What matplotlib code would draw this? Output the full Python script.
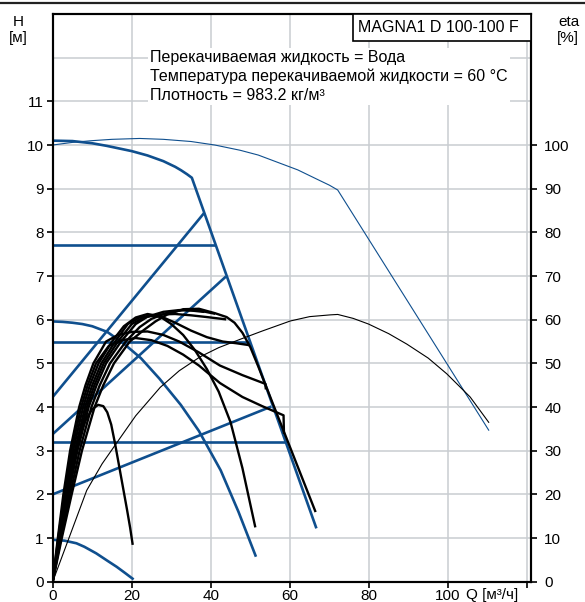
import matplotlib.pyplot as plt
from matplotlib.lines import Line2D
from matplotlib.patches import Rectangle

plt.rcParams['font.family'] = ['Liberation Sans', 'DejaVu Sans']

BLUE = '#0f4f8e'
GRID = '#c9cdd1'

# Q-H curves, Q in m3/h, H in m
max_q = [0, 5, 10, 13.7, 20, 24, 28, 31, 32.5, 34, 35.2, 66.6]
max_h = [10.1, 10.09, 10.04, 9.98, 9.86, 9.76, 9.63, 9.5, 9.42, 9.33, 9.25, 1.25]
min_q = [0, 3, 6, 8, 11, 14, 16.2, 18.3, 20.2]
min_h = [0.96, 0.94, 0.88, 0.8, 0.65, 0.47, 0.34, 0.2, 0.07]
spd_q = [0, 2.5, 5, 7.5, 10, 13.8, 18, 22.3, 27, 32.4, 37, 42.5, 47, 51.3]
spd_h = [5.96, 5.95, 5.93, 5.9, 5.85, 5.72, 5.45, 5.12, 4.65, 4.05, 3.45, 2.55, 1.6, 0.6]
cp_q = [[0, 40.8], [0, 49.6], [0, 58.8]]
cp_h = [[7.7, 7.7], [5.5, 5.5], [3.2, 3.2]]
pp_q = [[0, 38.1], [0, 43.6], [0, 55.0]]
pp_h = [[4.23, 8.42], [3.38, 6.97], [2.0, 4.0]]

# twin pump (parallel) curves, thin
par_q = [0, 5, 10, 15, 22, 28, 35, 41, 47.4, 52, 57, 62, 67.7, 70, 72.1, 110.3]
par_h = [10.0, 10.06, 10.1, 10.13, 10.15, 10.13, 10.08, 10.0, 9.88, 9.77, 9.6, 9.43,
         9.18, 9.08, 8.97, 3.47]
par_eta_q = [0, 8.6, 12.5, 16.2, 21, 27.2, 32, 37.3, 42, 47.4, 53, 60.1, 65, 70.2, 72.1,
             76, 79.9, 85, 89.6, 95, 99.7, 105.6, 110.3]
par_eta = [0, 20.9, 27, 31.8, 38, 44.5, 48.3, 51.5, 53.6, 55.5, 57.4, 59.7, 60.7, 61.1, 61.2,
           60.3, 59, 56.8, 54.4, 51.2, 47.6, 42.3, 36.5]

# efficiency curves, eta in %
eta_curves = [
    # max curve
    ([0, 2.3, 4.8, 7.4, 10.6, 12.8, 15.5, 19.5, 23, 26, 29, 33, 37, 41, 44, 46, 48, 50, 52,
      55.6, 60, 66.4],
     [0, 10, 20, 30, 40, 45, 50, 55, 57.6, 59.6, 61.2, 62.4, 62.5, 61.5, 60.6, 59.3, 57,
      53.7, 49.3, 41, 30.9, 16.2]),
    # constant pressure 7.7 m
    ([0, 2.1, 4.4, 6.8, 9.8, 11.9, 14.5, 18.5, 22, 25, 29, 33, 37, 40.8],
     [0, 10, 20, 30, 40, 45, 50, 55, 58.3, 60.2, 61.6, 62.2, 62.1, 61.4]),
    # proportional pressure high
    ([0, 1.9, 4.0, 6.25, 9.1, 11.1, 13.5, 17.3, 21, 24, 28, 32, 35, 38.1],
     [0, 10, 20, 30, 40, 45, 50, 55, 59, 60.7, 61.8, 62.2, 62.1, 61.8]),
    # proportional pressure mid
    ([0, 1.8, 3.75, 5.9, 8.65, 10.55, 12.9, 16.5, 20, 23, 27, 31, 35, 39, 43.6],
     [0, 10, 20, 30, 40, 45, 50, 55, 59, 60.5, 61.2, 61.3, 61, 60.6, 60.1]),
    # constant pressure 5.5 m
    ([0, 1.7, 3.5, 5.6, 8.2, 10, 12.3, 15.8, 19, 22, 25, 28, 31, 35, 39, 43, 46.5, 49.5],
     [0, 10, 20, 30, 40, 45, 50, 55, 59, 60.5, 61, 60.5, 59.3, 57.5, 56, 55, 54.6, 54.2]),
    # constant speed curve
    ([0, 1.55, 3.2, 5.15, 7.7, 9.4, 11.6, 15, 18, 21, 24, 27, 30, 33, 36, 39, 42, 45, 48, 51.2],
     [0, 10, 20, 30, 40, 45, 50, 55, 58.5, 60.5, 61.3, 60.8, 59, 56.5, 53, 48.7, 43.5, 36.5,
      26, 12.7]),
    # proportional pressure low
    ([0, 1.3, 2.7, 4.4, 6.7, 8.3, 10.3, 13.5, 16.5, 20, 24, 28, 32, 37, 42.3, 48, 53.8, 53.9],
     [0, 10, 20, 30, 40, 45, 50, 55, 56.5, 57.2, 57.3, 56.5, 55, 52.5, 49.5, 47.3, 45.3, 44.3]),
    # constant pressure 3.2 m
    ([0, 1.4, 2.95, 4.75, 7.2, 8.85, 10.95, 14.2, 17.5, 21, 25, 29, 33, 37, 42.3, 48, 53,
      58.4, 58.5],
     [0, 10, 20, 30, 40, 45, 50, 54, 55.3, 55.8, 55.3, 54, 52, 49.5, 45.5, 42.3, 40.2,
      38.1, 34.1]),
    # min curve
    ([0, 1.6, 3.3, 5.3, 7, 8.5, 10, 11.5, 12.8, 13.8, 14.8, 15.8, 16.8, 17.8, 18.8, 19.6, 20.2],
     [0, 10, 20, 29, 34, 37.3, 39.5, 40.5, 40.2, 38.8, 36, 31.5, 26.5, 21.5, 16.5, 12.3, 8.7]),
]

fig = plt.figure(figsize=(5.85, 6.02), dpi=100)
ax = fig.add_axes([52.7 / 585, 20.3 / 602, 478.3 / 585, 567.7 / 602])
ax2 = ax.twinx()

ax.set_xlim(0, 121)
ax.set_ylim(0, 13)
ax2.set_ylim(0, 130)

ax.set_xticks(range(0, 121, 20))
ax.set_xticklabels(['0', '20', '40', '60', '80', '100', ''])
ax.set_yticks(range(0, 13))
ax.set_yticklabels([str(i) for i in range(12)] + [''])
ax.yaxis.get_major_ticks()[12].tick1line.set_visible(False)
ax2.set_yticks(range(0, 101, 10))
ax.grid(True, color=GRID, lw=1.1, zorder=0)
ax.set_axisbelow(True)

ax.tick_params(axis='y', labelsize=11, length=4.5, width=1.2, direction='out', pad=2)
ax.tick_params(axis='x', labelsize=11, length=4.5, width=1.2, direction='out', pad=1)
ax2.tick_params(axis='y', labelsize=11, length=4.5, width=1.2, direction='out', pad=5)
for a in (ax, ax2):
    for s in a.spines.values():
        s.set_linewidth(1.5)
        s.set_color('black')

lw = 1.9
ax.plot(max_q, max_h, color=BLUE, lw=lw)
ax.plot(min_q, min_h, color=BLUE, lw=lw)
ax.plot(spd_q, spd_h, color=BLUE, lw=lw)
for q, h in zip(cp_q, cp_h):
    ax.plot(q, h, color=BLUE, lw=lw)
for q, h in zip(pp_q, pp_h):
    ax.plot(q, h, color=BLUE, lw=lw)
ax.plot(par_q, par_h, color=BLUE, lw=0.8)

for q, e in eta_curves:
    ax2.plot(q, e, color='black', lw=1.7, solid_joinstyle='round')
ax2.plot(par_eta_q, par_eta, color='black', lw=0.8)

ax.text(0.2034, 0.8896,
        'Перекачиваемая жидкость = Вода\n'
        'Температура перекачиваемой жидкости = 60 °C\n'
        'Плотность = 983.2 кг/м³',
        transform=ax.transAxes, fontsize=11.5, va='center', ha='left',
        linespacing=1.3, zorder=10,
        bbox=dict(facecolor='white', edgecolor='none', pad=1.5))

ax2.add_patch(Rectangle((0.6285, 0.953), 0.3715, 0.047, transform=ax.transAxes,
                        facecolor='white', edgecolor='black', lw=1.2, zorder=10))
ax2.text(0.8056, 0.9765, 'MAGNA1 D 100-100 F', transform=ax.transAxes,
         fontsize=11.5, ha='center', va='center', zorder=11)

fig.text(18 / 585, 1 - 22 / 602, 'H', fontsize=11, ha='center', va='center')
fig.text(18 / 585, 1 - 38 / 602, '[м]', fontsize=11, ha='center', va='center')
fig.text(569 / 585, 1 - 22 / 602, 'eta', fontsize=11, ha='center', va='center')
fig.text(568 / 585, 1 - 38 / 602, '[%]', fontsize=11, ha='center', va='center')
fig.text(466 / 585, 1 - 595 / 602, 'Q [м³/ч]', fontsize=11, ha='left', va='center')

fig.add_artist(Line2D([0, 1], [1 - 2.5 / 602] * 2, color='#222222', lw=1.6))

fig.savefig('out.png', dpi=100)
